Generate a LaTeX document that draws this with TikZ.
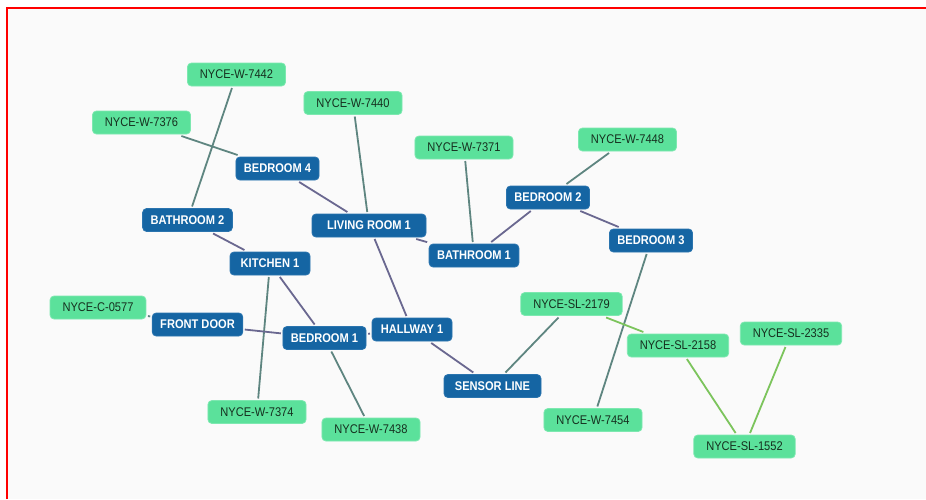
\documentclass[tikz,border=0pt]{standalone}
\usepackage{fontspec}
\setmainfont[FakeStretch=0.88]{Liberation Sans}
\definecolor{sensorfill}{HTML}{5BE19B}
\definecolor{sensorrim}{HTML}{7DE8B0}
\definecolor{sensortext}{HTML}{16301F}
\definecolor{roomfill}{HTML}{1565A3}
\definecolor{roomrim}{HTML}{2A74AE}
\definecolor{probegrey}{HTML}{5E8580}
\definecolor{linkpurple}{HTML}{6A6890}
\definecolor{serialgreen}{HTML}{7CC45C}
\definecolor{canvas}{HTML}{FAFAFA}
\begin{document}
\begin{tikzpicture}[x=1pt, y=-1pt,
    font=\fontsize{12.6}{14}\selectfont,
    sensor/.style={rectangle, rounded corners=4, fill=sensorfill, draw=sensorrim, line width=0.8,
      text=sensortext, minimum height=23, inner xsep=12.5, inner ysep=0, outer sep=2},
    room/.style={rectangle, rounded corners=4, fill=roomfill, draw=roomrim, line width=0.8,
      text=white, font=\fontsize{12.6}{14}\selectfont\bfseries, minimum height=23,
      minimum width=80, inner xsep=8, inner ysep=0, outer sep=2},
    probe/.style={draw=probegrey, line width=1.8},
    link/.style={draw=linkpurple, line width=1.8},
    serial/.style={draw=serialgreen, line width=1.8}]
    \useasboundingbox (0,0) rectangle (926,499);
    \fill [white] (0,0) rectangle (926,499);
    \fill [canvas] (8,9) rectangle (926,499);
    \draw [red, line width=2.2] (7,499) -- (7,7.8) -- (926,7.8);
    % rooms
    \node [room] (bed4) at (277.5,168.5) {BEDROOM 4};
    \node [room] (bath2) at (187.5,220) {BATHROOM 2};
    \node [room, minimum width=114] (living1) at (369,225.5) {LIVING ROOM 1};
    \node [room] (bed2) at (548,197.5) {BEDROOM 2};
    \node [room] (bath1) at (474,255.5) {BATHROOM 1};
    \node [room] (bed3) at (651,240.5) {BEDROOM 3};
    \node [room] (kitchen1) at (270,263.5) {KITCHEN 1};
    \node [room] (front) at (197.5,324.5) {FRONT DOOR};
    \node [room] (bed1) at (324.5,338) {BEDROOM 1};
    \node [room] (hall1) at (412,329.5) {HALLWAY 1};
    \node [room, minimum width=97] (sline) at (492.5,386) {SENSOR LINE};
    % sensors
    \node [sensor] (w7442) at (236.5,74.5) {NYCE-W-7442};
    \node [sensor] (w7440) at (353,103) {NYCE-W-7440};
    \node [sensor] (w7376) at (141.5,122.5) {NYCE-W-7376};
    \node [sensor] (w7371) at (464,147.5) {NYCE-W-7371};
    \node [sensor] (w7448) at (627.5,139.5) {NYCE-W-7448};
    \node [sensor] (c0577) at (98,307.5) {NYCE-C-0577};
    \node [sensor] (w7374) at (257,412) {NYCE-W-7374};
    \node [sensor] (w7438) at (371,429.5) {NYCE-W-7438};
    \node [sensor] (w7454) at (593,420) {NYCE-W-7454};
    \node [sensor] (sl2179) at (571.5,304) {NYCE-SL-2179};
    \node [sensor] (sl2158) at (678,345.5) {NYCE-SL-2158};
    \node [sensor] (sl2335) at (791,333.5) {NYCE-SL-2335};
    \node [sensor] (sl1552) at (744.5,446.5) {NYCE-SL-1552};
    % sensor to room
    \draw [probe] (w7442) -- (bath2);
    \draw [probe] (w7376) -- (bed4);
    \draw [probe] (w7440) -- (living1);
    \draw [probe] (w7371) -- (bath1);
    \draw [probe] (w7448) -- (bed2);
    \draw [probe] (bed3) -- (w7454);
    \draw [probe] (kitchen1) -- (w7374);
    \draw [probe] (c0577) -- (front);
    \draw [probe] (bed1) -- (w7438);
    \draw [probe] (sline) -- (sl2179);
    % room to room
    \draw [link] (bed4) -- (living1);
    \draw [link] (bath2) -- (kitchen1);
    \draw [link] (living1) -- (bath1);
    \draw [link] (living1) -- (hall1);
    \draw [link] (bath1) -- (bed2);
    \draw [link] (bed2) -- (bed3);
    \draw [link] (kitchen1) -- (bed1);
    \draw [link] (front) -- (bed1);
    \draw [link] (bed1) -- (hall1);
    \draw [link] (hall1) -- (sline);
    % sensor line
    \draw [serial] (sl2179) -- (sl2158);
    \draw [serial] (sl2158) -- (sl1552);
    \draw [serial] (sl2335) -- (sl1552);
\end{tikzpicture}
\end{document}
